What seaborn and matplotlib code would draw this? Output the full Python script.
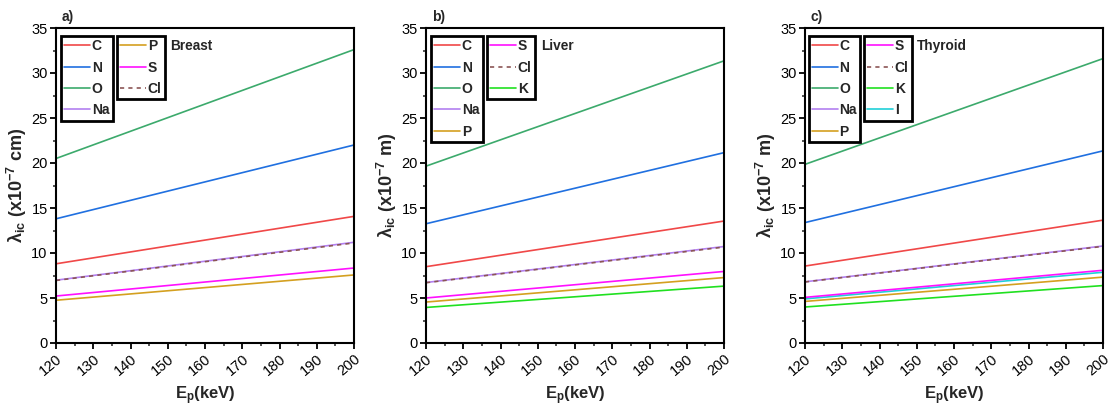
import matplotlib
matplotlib.use("Agg")
import matplotlib.pyplot as plt
from matplotlib.lines import Line2D
from matplotlib.ticker import MultipleLocator
from matplotlib.transforms import ScaledTranslation
import numpy as np
import pandas as pd
import seaborn as sns

# Proton energy grid (keV)
energy = [120, 200]

# Breast tissue: lambda_ic (x1e-7) per element
breast_C = [8.80, 14.07]
breast_N = [13.80, 22.00]
breast_O = [20.50, 32.60]
breast_Na = [6.98, 11.19]
breast_P = [4.75, 7.56]
breast_S = [5.22, 8.33]
breast_Cl = [6.95, 11.12]

# Liver tissue
liver_C = [8.48, 13.55]
liver_N = [13.25, 21.15]
liver_O = [19.65, 31.35]
liver_Na = [6.72, 10.72]
liver_P = [4.55, 7.27]
liver_S = [5.00, 7.95]
liver_Cl = [6.70, 10.66]
liver_K = [3.95, 6.32]

# Thyroid tissue
thyroid_C = [8.55, 13.65]
thyroid_N = [13.38, 21.35]
thyroid_O = [19.85, 31.60]
thyroid_Na = [6.80, 10.78]
thyroid_P = [4.62, 7.32]
thyroid_S = [5.07, 8.08]
thyroid_Cl = [6.78, 10.74]
thyroid_K = [4.00, 6.38]
thyroid_I = [4.90, 7.86]

colors = {
    "C": "#f04848", "N": "#2070e0", "O": "#3caa6c", "Na": "#b380f0",
    "P": "#d4a020", "S": "#ff10ff", "Cl": "#8b5555", "K": "#20e020",
    "I": "#20d0d8",
}

panels = [
    {
        "tag": "a)", "tissue": "Breast", "unit": "cm",
        "series": {"C": breast_C, "N": breast_N, "O": breast_O, "Na": breast_Na,
                   "P": breast_P, "S": breast_S, "Cl": breast_Cl},
        "col1": ["C", "N", "O", "Na"], "col2": ["P", "S", "Cl"],
        "left": 56, "l1x": 0.017, "l2x": 0.205, "tx": 0.383,
    },
    {
        "tag": "b)", "tissue": "Liver", "unit": "m",
        "series": {"C": liver_C, "N": liver_N, "O": liver_O, "Na": liver_Na,
                   "P": liver_P, "S": liver_S, "K": liver_K, "Cl": liver_Cl},
        "col1": ["C", "N", "O", "Na", "P"], "col2": ["S", "Cl", "K"],
        "left": 426, "l1x": 0.017, "l2x": 0.205, "tx": 0.386,
    },
    {
        "tag": "c)", "tissue": "Thyroid", "unit": "m",
        "series": {"C": thyroid_C, "N": thyroid_N, "O": thyroid_O, "Na": thyroid_Na,
                   "P": thyroid_P, "K": thyroid_K, "I": thyroid_I, "S": thyroid_S,
                   "Cl": thyroid_Cl},
        "col1": ["C", "N", "O", "Na", "P"], "col2": ["S", "Cl", "K", "I"],
        "left": 805, "l1x": 0.013, "l2x": 0.198, "tx": 0.376,
    },
]

sns.set_theme(style="ticks")
plt.rcParams["font.family"] = ["Liberation Sans", "DejaVu Sans"]
plt.rcParams["mathtext.fontset"] = "custom"
plt.rcParams["mathtext.rm"] = "Liberation Sans"
plt.rcParams["mathtext.it"] = "Liberation Sans:italic"
plt.rcParams["mathtext.bf"] = "Liberation Sans:bold"

W, H = 1112, 408
fig = plt.figure(figsize=(W / 100, H / 100), dpi=100)

LW = 1.2
dash_pattern = (2.5, 2.5)


def style_of(el):
    if el == "Cl":
        return dict(linestyle=(0, dash_pattern))
    return dict(linestyle="-")


def handles(names):
    return [Line2D([], [], color=colors[n], linewidth=LW, **style_of(n))
            for n in names]


leg_kw = dict(frameon=True, fancybox=False, edgecolor="black",
              prop={"weight": "bold", "size": 10},
              handlelength=1.85, handletextpad=0.12, labelspacing=0.53,
              borderpad=0.24, borderaxespad=0.0, framealpha=1)

for p in panels:
    ax = fig.add_axes([p["left"] / W, 1 - 343 / H, 298 / W, 315 / H])
    rows = []
    for el, vals in p["series"].items():
        for e, v in zip(energy, vals):
            rows.append({"E": e, "lam": v, "element": el})
    df = pd.DataFrame(rows)
    order = list(p["series"].keys())
    dashes = {el: (dash_pattern if el == "Cl" else "") for el in order}
    sns.lineplot(data=df, x="E", y="lam", hue="element", style="element",
                 hue_order=order, style_order=order, palette=colors,
                 dashes=dashes, linewidth=LW, legend=False, ax=ax)

    ax.set_xlim(120, 200)
    ax.set_ylim(0, 35)
    ax.xaxis.set_major_locator(MultipleLocator(10))
    ax.xaxis.set_minor_locator(MultipleLocator(5))
    ax.yaxis.set_major_locator(MultipleLocator(5))
    ax.yaxis.set_minor_locator(MultipleLocator(2.5))
    ax.tick_params(axis="both", which="major", direction="out", length=4,
                   width=1.3, labelsize=10.5, colors="black", pad=2)
    ax.tick_params(axis="both", which="minor", direction="out", length=2.2,
                   width=1.1)
    shift = ScaledTranslation(-5 / 100, 0, fig.dpi_scale_trans)
    for lab in ax.get_xticklabels():
        lab.set_rotation(40)
        lab.set_ha("center")
        lab.set_va("top")
        lab.set_transform(lab.get_transform() + shift)
    for side in ax.spines.values():
        side.set_linewidth(1.5)
        side.set_color("black")

    ax.set_xlabel(r"E$_{\mathbf{p}}$(keV)", fontsize=12, fontweight="bold",
                  labelpad=5)
    ax.set_ylabel("λ$_{\\mathbf{ic}}$ (x10$^{\\mathbf{-7}}$ " + p["unit"] + ")",
                  fontsize=13, fontweight="bold", labelpad=2)

    ax.text(0.02, 1.012, p["tag"], transform=ax.transAxes, fontsize=10,
            fontweight="bold", ha="left", va="bottom")
    ax.text(p["tx"], 0.943, p["tissue"], transform=ax.transAxes, fontsize=9.8,
            fontweight="bold", ha="left", va="center")

    l1 = ax.legend(handles(p["col1"]), p["col1"], loc="upper left",
                   bbox_to_anchor=(p["l1x"], 0.975), **leg_kw)
    l1.get_frame().set_linewidth(2.0)
    ax.add_artist(l1)
    l2 = ax.legend(handles(p["col2"]), p["col2"], loc="upper left",
                   bbox_to_anchor=(p["l2x"], 0.975), **leg_kw)
    l2.get_frame().set_linewidth(2.0)

fig.savefig("out.png", dpi=100)
